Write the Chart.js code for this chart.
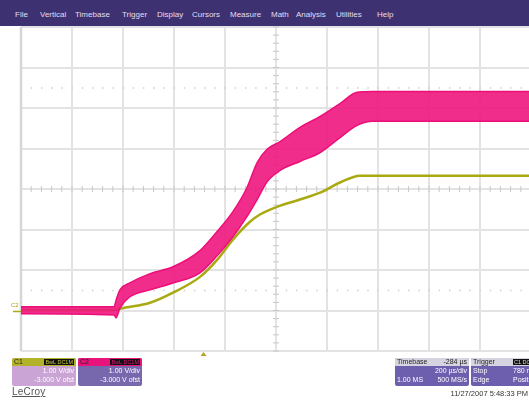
<!DOCTYPE html>
<html>
<head>
<meta charset="utf-8">
<script src="https://cdn.jsdelivr.net/npm/chart.js@4.4.1/dist/chart.umd.min.js"></script>
<style>
  html, body { margin: 0; padding: 0; background: #fff; overflow: hidden; }
  body { width: 529px; height: 402px; position: relative; font-family: "Liberation Sans", Arial, sans-serif; }
  #menu { position: absolute; left: 0; top: 0; width: 529px; height: 26px; background: #3e3171; }
  #menu span { position: absolute; top: 10px; font-size: 8px; color: #e2def0; }
  #wrap { position: absolute; left: 0; top: 0; width: 545px; height: 402px; }
  .box { position: absolute; top: 358px; height: 28px; border-radius: 2px; overflow: hidden; font-size: 7px; color: #fff; }
  .box .hd { height: 8px; line-height: 8px; position: relative; }
  .box .row { position: relative; height: 9px; line-height: 9px; }
  .l { position: absolute; left: 2px; }
  .r { position: absolute; right: 2px; }
  .tag { position: absolute; top: 1px; height: 6px; line-height: 6px; background: #111; font-size: 5.5px; padding: 0 1px; }
  #logo { position: absolute; left: 12px; top: 386px; font-size: 10px; color: #555; text-decoration: underline; letter-spacing: 0.2px; }
  #stamp { position: absolute; right: 1px; top: 389px; font-size: 7.5px; color: #333; }
  #c2lbl { position: absolute; left: 11px; top: 302px; font-size: 6px; color: #a9a020; }
</style>
</head>
<body>
<div id="wrap"><canvas id="scope" width="545" height="402"></canvas></div>
<div id="menu"></div>
<div id="c2lbl">C2</div>

<div class="box" style="left:12px;width:64px;background:#c9a4d4;">
  <div class="hd" style="background:#b3b32a;color:#222;"><span class="l">C1</span><span class="tag" style="right:2px;color:#c8c840;">BwL DC1M</span></div>
  <div class="row"><span class="r">1.00 V/div</span></div>
  <div class="row"><span class="r">-3.000 V ofst</span></div>
</div>
<div class="box" style="left:78px;width:64px;background:#7767ad;">
  <div class="hd" style="background:#e8147b;color:#222;"><span class="l">C2</span><span class="tag" style="right:2px;color:#e8147b;">BwL DC1M</span></div>
  <div class="row"><span class="r">1.00 V/div</span></div>
  <div class="row"><span class="r">-3.000 V ofst</span></div>
</div>
<div class="box" style="left:395px;width:74px;background:#6d5eae;">
  <div class="hd" style="background:#d6d4e0;color:#222;"><span class="l">Timebase</span><span class="r">-284 µs</span></div>
  <div class="row"><span class="r">200 µs/div</span></div>
  <div class="row"><span class="l">1.00 MS</span><span class="r">500 MS/s</span></div>
</div>
<div class="box" style="left:471px;width:74px;background:#6d5eae;">
  <div class="hd" style="background:#d6d4e0;color:#222;"><span class="l">Trigger</span><span class="tag" style="left:42px;color:#ddd;">C1 DC</span></div>
  <div class="row"><span class="l">Stop</span><span class="l" style="left:42px;">780 mV</span></div>
  <div class="row"><span class="l">Edge</span><span class="l" style="left:42px;">Positive</span></div>
</div>
<div id="logo">LeCroy</div>
<div id="stamp">11/27/2007 5:48:33 PM</div>

<script>
// menu bar
const menuItems = ["File", "Vertical", "Timebase", "Trigger", "Display", "Cursors", "Measure", "Math", "Analysis", "Utilities", "Help"];
const menuX = [15, 40, 75, 122, 157, 192, 230, 271, 296, 336, 377];

// time in µs (trigger at 0), voltage in V
const timeMin = -716;
const timeMax = 1284;
const timePerDiv = 200;

// C2 (pink) ripple envelope
const c2Time  = [-716, -351, -343, -328, -289, -210, -120, -14, 53, 115, 170, 210, 249, 300, 378, 457, 535, 602, 664, 1284];
const c2Upper = [0.09, 0.09, 0.26, 0.51, 0.68, 0.91, 1.08, 1.48, 1.95, 2.44, 3.03, 3.65, 3.98, 4.17, 4.52, 4.79, 5.11, 5.39, 5.41, 5.41];
const c2Lower = [-0.08, -0.11, -0.18, 0.06, 0.34, 0.51, 0.68, 0.93, 1.35, 1.82, 2.32, 2.74, 3.18, 3.46, 3.68, 3.90, 4.27, 4.57, 4.67, 4.67];

// C1 (yellow)
const c1Time = [-716, -343, -328, -210, -120, -14, 53, 115, 182, 221, 288, 378, 457, 535, 613, 1284];
const c1Volt = [0.01, 0.01, 0.04, 0.19, 0.44, 0.83, 1.25, 1.75, 2.19, 2.37, 2.56, 2.74, 2.91, 3.16, 3.33, 3.33];

const menu = document.getElementById("menu");
menuItems.forEach((m, i) => {
  const s = document.createElement("span");
  s.textContent = m;
  s.style.left = menuX[i] + "px";
  menu.appendChild(s);
});

const toXY = (xs, ys) => xs.map((x, i) => ({ x, y: ys[i] }));

const divTicks = [];
for (let i = 0; i <= 10; i++) divTicks.push(timeMin + i * timePerDiv);

// center ticks, dotted lines and trigger marker
const scopeDecor = {
  id: "scopeDecor",
  beforeDatasetsDraw(chart) {
    const { ctx, chartArea: a, scales: { x, y } } = chart;
    const cx = x.getPixelForValue(timeMin + 5 * timePerDiv);
    const cy = y.getPixelForValue(3);
    ctx.save();
    ctx.strokeStyle = "#c8c8c8";
    ctx.lineWidth = 1;
    for (let i = 0; i <= 50; i++) {
      const px = x.getPixelForValue(timeMin + i * timePerDiv / 5);
      ctx.beginPath(); ctx.moveTo(px, cy - 3); ctx.lineTo(px, cy + 3); ctx.stroke();
    }
    for (let i = 0; i <= 40; i++) {
      const py = y.getPixelForValue(-1 + i / 5);
      ctx.beginPath(); ctx.moveTo(cx - 3, py); ctx.lineTo(cx + 3, py); ctx.stroke();
    }
    ctx.fillStyle = "#cfcfcf";
    [5.5, 0.5].forEach(v => {
      const py = y.getPixelForValue(v);
      for (let i = 0; i <= 50; i++) {
        const px = x.getPixelForValue(timeMin + i * timePerDiv / 5);
        ctx.fillRect(px - 0.5, py - 0.5, 1.5, 1.5);
      }
    });
    // left border a little darker
    ctx.strokeStyle = "#d6d6d6";
    ctx.lineWidth = 2.5;
    ctx.beginPath(); ctx.moveTo(a.left, a.top); ctx.lineTo(a.left, a.bottom); ctx.stroke();
    // C1 ground marker line left of grid
    ctx.strokeStyle = "#a9a915";
    ctx.lineWidth = 1.5;
    const gy = y.getPixelForValue(0);
    ctx.beginPath(); ctx.moveTo(a.left - 8, gy + 1); ctx.lineTo(a.left, gy + 1); ctx.stroke();
    // trigger marker
    const tx = x.getPixelForValue(0);
    ctx.fillStyle = "#b3a51c";
    ctx.beginPath();
    ctx.moveTo(tx - 3, a.bottom + 5); ctx.lineTo(tx + 3, a.bottom + 5); ctx.lineTo(tx, a.bottom + 1);
    ctx.closePath(); ctx.fill();
    ctx.restore();
  }
};

new Chart(document.getElementById("scope"), {
  type: "line",
  data: {
    datasets: [
      {
        label: "C2 upper",
        data: toXY(c2Time, c2Upper),
        borderColor: "#ec0f78",
        borderWidth: 1.5,
        pointRadius: 0,
        cubicInterpolationMode: "monotone",
        fill: false
      },
      {
        label: "C2 lower",
        data: toXY(c2Time, c2Lower),
        borderColor: "#ec0f78",
        borderWidth: 1.5,
        backgroundColor: "rgba(238,22,126,0.9)",
        pointRadius: 0,
        cubicInterpolationMode: "monotone",
        fill: "-1"
      },
      {
        label: "C1",
        data: toXY(c1Time, c1Volt),
        borderColor: "#a9a912",
        borderWidth: 2.5,
        pointRadius: 0,
        cubicInterpolationMode: "monotone",
        fill: false
      }
    ]
  },
  options: {
    responsive: false,
    animation: false,
    layout: { padding: { left: 21, top: 27, right: 14, bottom: 51 } },
    plugins: { legend: { display: false }, tooltip: { enabled: false } },
    scales: {
      x: {
        type: "linear",
        min: timeMin,
        max: timeMax,
        afterBuildTicks: s => { s.ticks = divTicks.map(v => ({ value: v })); },
        ticks: { display: false },
        grid: { color: "#e3e3e3", lineWidth: 2, drawTicks: false },
        border: { display: false }
      },
      y: {
        type: "linear",
        min: -1,
        max: 7,
        afterBuildTicks: s => { s.ticks = [-1, 0, 1, 2, 3, 4, 5, 6, 7].map(v => ({ value: v })); },
        ticks: { display: false },
        grid: { color: "#e3e3e3", lineWidth: 2, drawTicks: false },
        border: { display: false }
      }
    }
  },
  plugins: [scopeDecor]
});
</script>
</body>
</html>
